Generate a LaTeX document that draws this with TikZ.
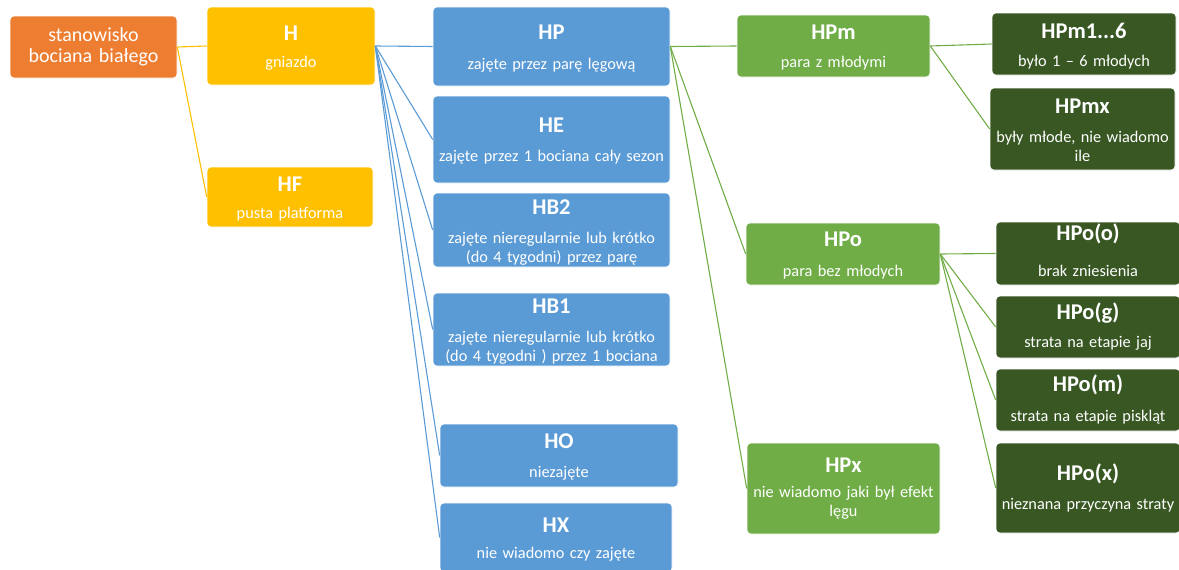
\documentclass[tikz,border=0pt]{standalone}
\usepackage{fontspec}
\setmainfont{Carlito}
\definecolor{cOr}{HTML}{ED7D31}
\definecolor{cYe}{HTML}{FFC000}
\definecolor{cBl}{HTML}{5B9BD5}
\definecolor{cGr}{HTML}{70AD47}
\definecolor{cDg}{HTML}{385723}
\tikzset{
  box/.style={rectangle, rounded corners=4pt, draw=white, line width=0.6pt, inner sep=0pt},
  ttl/.style={anchor=base, text=white, font=\fontsize{22.5}{26}\selectfont\bfseries, inner sep=0pt},
  sub/.style={anchor=base, text=white, font=\fontsize{16.3}{19.5}\selectfont, inner sep=0pt, align=center, text width=260pt},
  conn/.style={line width=1.1pt},
}
\begin{document}
\begin{tikzpicture}[x=1pt,y=-1pt]
\useasboundingbox (0,0) rectangle (1179,570);
% boxes
\node[box, fill=cOr, minimum width=167pt, minimum height=62pt] (or) at (93.5,47) {};
\node[box, fill=cYe, minimum width=168pt, minimum height=78pt] (H) at (291,46) {};
\node[box, fill=cYe, minimum width=166pt, minimum height=60pt] (HF) at (290,197) {};
\node[box, fill=cBl, minimum width=237pt, minimum height=79pt] (HP) at (551.5,46.5) {};
\node[box, fill=cBl, minimum width=237pt, minimum height=87pt] (HE) at (551.5,139.5) {};
\node[box, fill=cBl, minimum width=237pt, minimum height=74pt] (HB2) at (551.5,230) {};
\node[box, fill=cBl, minimum width=237pt, minimum height=73pt] (HB1) at (551.5,329.5) {};
\node[box, fill=cBl, minimum width=238pt, minimum height=63pt] (HO) at (559,455.5) {};
\node[box, fill=cBl, minimum width=232pt, minimum height=69pt] (HX) at (556,537.5) {};
\node[box, fill=cGr, minimum width=193pt, minimum height=62pt] (HPm) at (833.5,46) {};
\node[box, fill=cGr, minimum width=194pt, minimum height=62pt] (HPo) at (843,254) {};
\node[box, fill=cGr, minimum width=193pt, minimum height=91pt] (HPx) at (843.5,488.5) {};
\node[box, fill=cDg, minimum width=184pt, minimum height=62pt] (HPm16) at (1084,44) {};
\node[box, fill=cDg, minimum width=185pt, minimum height=82pt] (HPmx) at (1082.5,129) {};
\node[box, fill=cDg, minimum width=184pt, minimum height=63pt] (HPoo) at (1088,253.5) {};
\node[box, fill=cDg, minimum width=184pt, minimum height=62pt] (HPog) at (1088,327) {};
\node[box, fill=cDg, minimum width=184pt, minimum height=62pt] (HPom) at (1088,400) {};
\node[box, fill=cDg, minimum width=184pt, minimum height=90pt] (HPox) at (1088,488) {};
% texts
\node[anchor=base, text=white, font=\fontsize{20}{21.5}\selectfont, inner sep=0pt, align=center, text width=165pt] (or-t) at (93.5,41) {stanowisko\\bociana białego};
\node[ttl] (H-t) at (291,40.2) {H};
\node[sub] (H-s) at (291,67.3) {gniazdo};
\node[ttl] (HF-t) at (290,191.2) {HF};
\node[sub] (HF-s) at (290,218.3) {pusta platforma};
\node[ttl] (HP-t) at (551.5,39.2) {HP};
\node[sub] (HP-s) at (551.5,69.3) {zajęte przez parę lęgową};
\node[ttl] (HE-t) at (551.5,132.2) {HE};
\node[sub] (HE-s) at (551.5,161.3) {zajęte przez 1 bociana cały sezon};
\node[ttl] (HB2-t) at (551.5,214.2) {HB2};
\node[sub] (HB2-s) at (551.5,243.3) {zajęte nieregularnie lub krótko\\(do 4 tygodni) przez parę};
\node[ttl] (HB1-t) at (551.5,313.2) {HB1};
\node[sub] (HB1-s) at (551.5,342.3) {zajęte nieregularnie lub krótko\\(do 4 tygodni ) przez 1 bociana};
\node[ttl] (HO-t) at (559,448.2) {HO};
\node[sub] (HO-s) at (559,477.3) {niezajęte};
\node[ttl] (HX-t) at (556,532.2) {HX};
\node[sub] (HX-s) at (556,558.3) {nie wiadomo czy zajęte};
\node[ttl] (HPm-t) at (833.5,39.2) {HPm};
\node[sub] (HPm-s) at (833.5,67.3) {para z młodymi};
\node[ttl] (HPo-t) at (843,246.2) {HPo};
\node[sub] (HPo-s) at (843,276.3) {para bez młodych};
\node[ttl] (HPx-t) at (843.5,472.2) {HPx};
\node[sub] (HPx-s) at (843.5,497.3) {nie wiadomo jaki był efekt\\lęgu};
\node[ttl] (HPm16-t) at (1084,38.2) {HPm1...6};
\node[sub] (HPm16-s) at (1084,66.3) {było 1 – 6 młodych};
\node[ttl] (HPmx-t) at (1082.5,113.2) {HPmx};
\node[sub] (HPmx-s) at (1082.5,142.3) {były młode, nie wiadomo\\ile};
\node[ttl] (HPoo-t) at (1088,240.2) {HPo(o)};
\node[sub] (HPoo-s) at (1088,276.3) {brak zniesienia};
\node[ttl] (HPog-t) at (1088,319.2) {HPo(g)};
\node[sub] (HPog-s) at (1088,347.3) {strata na etapie jaj};
\node[ttl] (HPom-t) at (1088,391.2) {HPo(m)};
\node[sub] (HPom-s) at (1088,421.3) {strata na etapie piskląt};
\node[ttl] (HPox-t) at (1088,480.2) {HPo(x)};
\node[sub] (HPox-s) at (1088,509.3) {nieznana przyczyna straty};
% connectors
\draw[conn, cYe] (or.east) -- (H.west);
\draw[conn, cYe] (or.east) -- (HF.west);
\foreach \t in {HP,HE,HB2,HB1,HO,HX} \draw[conn, cBl] (H.east) -- (\t.west);
\foreach \t in {HPm,HPo,HPx} \draw[conn, cGr] (HP.east) -- (\t.west);
\foreach \t in {HPm16,HPmx} \draw[conn, cGr] (HPm.east) -- (\t.west);
\foreach \t in {HPoo,HPog,HPom,HPox} \draw[conn, cGr] (HPo.east) -- (\t.west);
\end{tikzpicture}
\end{document}
